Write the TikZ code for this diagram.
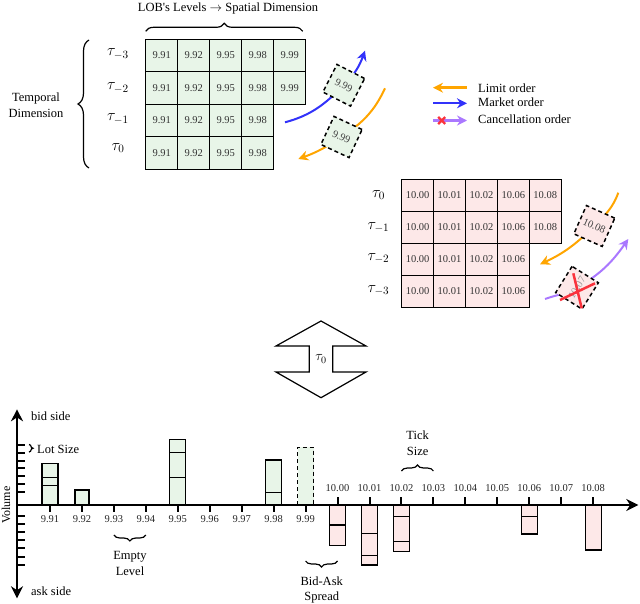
\RequirePackage{fix-cm}
\documentclass[tikz,border=0pt]{standalone}
\usepackage{fontspec}
\setmainfont{Liberation Serif}
\usetikzlibrary{arrows.meta,decorations.pathreplacing,calc}
\pgfdeclarelayer{background}
\pgfsetlayers{background,main}
\definecolor{cgreen}{RGB}{232,245,232}
\definecolor{cpink}{RGB}{253,232,232}
\definecolor{corange}{RGB}{255,165,0}
\definecolor{cblue}{RGB}{50,50,250}
\definecolor{cpurple}{RGB}{170,120,255}
\definecolor{cred}{RGB}{250,50,60}
\tikzset{
  txt/.style={font=\fontsize{12.5bp}{16bp}\selectfont, inner sep=1bp},
  numtxt/.style={font=\fontsize{10.5bp}{12bp}\selectfont, inner sep=0pt, text=black!85},
  cellbase/.style={draw, line width=1bp, minimum width=32bp, minimum height=32.5bp, inner sep=0pt, font=\fontsize{10.5bp}{12bp}\selectfont, text=black!80},
  gcell/.style={cellbase, fill=cgreen},
  rcell/.style={cellbase, fill=cpink, minimum height=32bp},
  taulab/.style={font=\fontsize{16bp}{18bp}\selectfont, inner sep=0pt},
  dbox/.style={draw, dash pattern=on 4bp off 3bp, line width=1.5bp, minimum size=31bp, inner sep=0pt, font=\fontsize{10.5bp}{12bp}\selectfont, text=black!75},
  flow/.style={line width=2bp},
  tipst/.style={-{Stealth[length=10bp,width=10bp]}},
  brc/.style={decorate, decoration={brace, amplitude=#1}, line width=1.2bp},
  brc/.default=6bp,
  axisline/.style={line width=2bp},
  bidbar/.style={draw, fill=cgreen, line width=1.1bp},
  askbar/.style={draw, fill=cpink, line width=1.1bp},
  inline/.style={line width=1.1bp},
}
\begin{document}
\begin{tikzpicture}[x=1bp,y=-1bp]
\useasboundingbox (0,0) rectangle (640,604);

% ---------- top (bid) grid ----------
\foreach \r/\y/\n in {1/55.55/5, 2/88.05/5, 3/120.55/4, 4/153.05/4}{
  \foreach \c/\v in {1/9.91,2/9.92,3/9.95,4/9.98,5/9.99}{
    \ifnum\c>\n\else
      \node[gcell] (g\r\c) at ({145.7+32*(\c-0.5)},\y) {\v};
    \fi
  }
}
\node[taulab] (ta3) at (118,54) {$\tau_{-3}$};
\node[taulab] (ta2) at (118,88) {$\tau_{-2}$};
\node[taulab] (ta1) at (118,119) {$\tau_{-1}$};
\node[taulab] (ta0) at (118,148) {$\tau_{0}$};

\draw[brc=8bp] ($(g11.north west)+(0.5,-7.5)$) -- ($(g15.north east)+(-3.5,-7.5)$);
\node[txt, inner sep=0pt, anchor=base] (lobt) at (228,11.5) {LOB\textquotesingle s Levels $\rightarrow$ Spatial Dimension};
\draw[brc=11bp] (89,168) -- (89,40);
\node[txt, align=center] (tempd) at (36,105) {Temporal\\Dimension};

% ---------- bottom (ask) grid ----------
\foreach \r/\y/\n in {1/195.3/5, 2/227.3/5, 3/259.3/4, 4/291.3/4}{
  \foreach \c/\v in {1/10.00,2/10.01,3/10.02,4/10.06,5/10.08}{
    \ifnum\c>\n\else
      \node[rcell] (r\r\c) at ({401.7+31.9*(\c-0.5)},\y) {\v};
    \fi
  }
}
\node[taulab] (tb0) at (378.5,195) {$\tau_{0}$};
\node[taulab] (tb1) at (378.5,227.5) {$\tau_{-1}$};
\node[taulab] (tb2) at (378.5,258.5) {$\tau_{-2}$};
\node[taulab] (tb3) at (378.5,290.5) {$\tau_{-3}$};

% ---------- order boxes ----------
\node[dbox, fill=cgreen, rotate=-27] (m1) at (343.75,85.3) {9.99};
\node[dbox, fill=cgreen, rotate=-25] (l1) at (341.5,137) {9.99};
\node[dbox, fill=cpink, rotate=-24] (l2) at (594.3,226) {10.08};
\node[dbox, fill=cpink, rotate=58] (c1) at (577,287.7) {\textcolor{black!40}{10.07}};
\draw[cred, line width=2.5bp] (573.3,273.3) -- (581.7,308.3) (560,300) -- (595,283.3);

\coordinate (bs) at (285,122.3);
\coordinate (be) at (365,50.7);
\coordinate (os) at (385,88.3);
\coordinate (oe) at (298.3,159);
\coordinate (o2s) at (618.3,192.7);
\coordinate (o2e) at (540,264.3);
\coordinate (ps) at (545,299);
\coordinate (pe) at (628.3,239);

\begin{pgfonlayer}{background}
\draw[flow, cblue] (bs) to[out=15,in=225] (m1.center);
\draw[flow, cblue, tipst] (m1.center) to[out=45,in=-110] (be);
\draw[flow, corange] (os) to[out=-115,in=34] (l1.center);
\draw[flow, corange, tipst] (l1.center) to[out=214,in=20] (oe);
\draw[flow, corange] (o2s) to[out=250,in=45] (l2.center);
\draw[flow, corange, tipst] (l2.center) to[out=225,in=25] (o2e);
\draw[flow, cpurple] (ps) to[out=20,in=210] (c1.center);
\draw[flow, cpurple, tipst] (c1.center) to[out=30,in=-125] (pe);
\end{pgfonlayer}

% ---------- legend ----------
\coordinate (la1) at (467,87.7);  \coordinate (la2) at (433,87.7);
\coordinate (lb1) at (433,103.3); \coordinate (lb2) at (467,103.3);
\coordinate (lc1) at (433,120.5); \coordinate (lc2) at (467,120.5);
\draw[flow, line width=2.4bp, corange, tipst] (la1) -- (la2);
\draw[flow, line width=2.4bp, cblue, tipst] (lb1) -- (lb2);
\draw[flow, line width=2.4bp, cpurple, tipst] (lc1) -- (lc2);
\draw[cred, line width=2.2bp] (438.2,117) -- (445.2,124) (438.2,124) -- (445.2,117);
\node[txt, anchor=west] (lt1) at (477,88.3) {Limit order};
\node[txt, anchor=west] (lt2) at (477,102.7) {Market order};
\node[txt, anchor=west] (lt3) at (477,119.5) {Cancellation order};

% ---------- double arrow ----------
\draw[line width=1.2bp, fill=white] (321,321) -- (366,346) -- (332.7,346) -- (332.7,372) -- (366,372) -- (321,397.7) -- (276,372) -- (309.3,372) -- (309.3,346) -- (276,346) -- cycle;
\node[font=\fontsize{14bp}{16bp}\selectfont, inner sep=0pt] (tz) at (321,359) {$\tau_0$};

% ---------- bars ----------
\draw[bidbar] (42,505) rectangle (58,463.3);
\draw[inline] (42,477.7) -- (58,477.7) (42,485.7) -- (58,485.7);
\draw[bidbar] (75,505) rectangle (89,490);
\draw[bidbar] (169.8,505) rectangle (185.8,439.3);
\draw[inline] (169.8,452.3) -- (185.8,452.3) (169.8,477.3) -- (185.8,477.3);
\draw[bidbar] (265.65,505) rectangle (281.65,460);
\draw[inline] (265.65,492.3) -- (281.65,492.3);
\draw[bidbar, line width=1.6bp, dash pattern=on 4bp off 3bp] (297.6,505) rectangle (313.6,447.3);

\draw[askbar] (329.55,505) rectangle (345.55,545.7);
\draw[inline] (329.55,525) -- (345.55,525);
\draw[askbar] (361.5,505) rectangle (377.5,565);
\draw[inline] (361.5,533.3) -- (377.5,533.3) (361.5,555.7) -- (377.5,555.7);
\draw[askbar] (393.45,505) rectangle (409.45,551.7);
\draw[inline] (393.45,516.7) -- (409.45,516.7) (393.45,541.7) -- (409.45,541.7);
\draw[askbar] (521.25,505) rectangle (537.25,534);
\draw[inline] (521.25,516.7) -- (537.25,516.7);
\draw[askbar] (585.15,505) rectangle (601.15,550);

% ---------- axes ----------
\draw[axisline, {Stealth[length=12bp,width=12bp]}-{Stealth[length=12bp,width=12bp]}] (17,409.3) -- (17,598.3);
\draw[axisline, -{Stealth[length=12bp,width=12bp]}] (17,505) -- (638.3,505);
\foreach \y in {445,452.8,460.6,468.4,476.2,484,491.8,516,524,532,540.2,548.4,556.5,564.5}
  \draw[line width=2bp] (17,\y) -- (25,\y);
\foreach \i/\lab in {0/9.91,1/9.92,2/9.93,3/9.94,4/9.95,5/9.96,6/9.97,7/9.98,8/9.99}{
  \draw[line width=2bp] ({50+31.95*\i},505) -- ({50+31.95*\i},512);
  \node[numtxt] (xl\i) at ({50+31.95*\i},519.5) {\lab};
}
\foreach \i/\lab in {9/10.00,10/10.01,11/10.02,12/10.03,13/10.04,14/10.05,15/10.06,16/10.07,17/10.08}{
  \draw[line width=2bp] ({50+31.95*\i},505) -- ({50+31.95*\i},497);
  \node[numtxt] (xl\i) at ({50+31.95*\i},488.5) {\lab};
}

% ---------- annotations ----------
\draw[brc=4bp] (29,444.5) -- (29,452);
\node[txt, anchor=west] (lots) at (36,449.3) {Lot Size};
\node[txt, anchor=west] (bids) at (30,416.7) {bid side};
\node[txt, anchor=west] (asks) at (30,591.7) {ask side};
\node[txt, rotate=90, font=\fontsize{12bp}{14bp}\selectfont] (vol) at (6,505) {Volume};

\draw[brc=6bp] (145.85,535) -- (113.9,535);
\node[txt, align=center] (empt) at (130,563.7) {Empty\\Level};
\draw[brc=6bp] (337.55,561) -- (305.6,561);
\node[txt, align=center, font=\fontsize{12.5bp}{15bp}\selectfont] (bas) at (321.7,590) {Bid-Ask\\Spread};
\draw[brc=6bp] (401.45,471) -- (433.4,471);
\node[txt, align=center] (ticks) at (417.7,443) {Tick\\Size};
\end{tikzpicture}
\end{document}
